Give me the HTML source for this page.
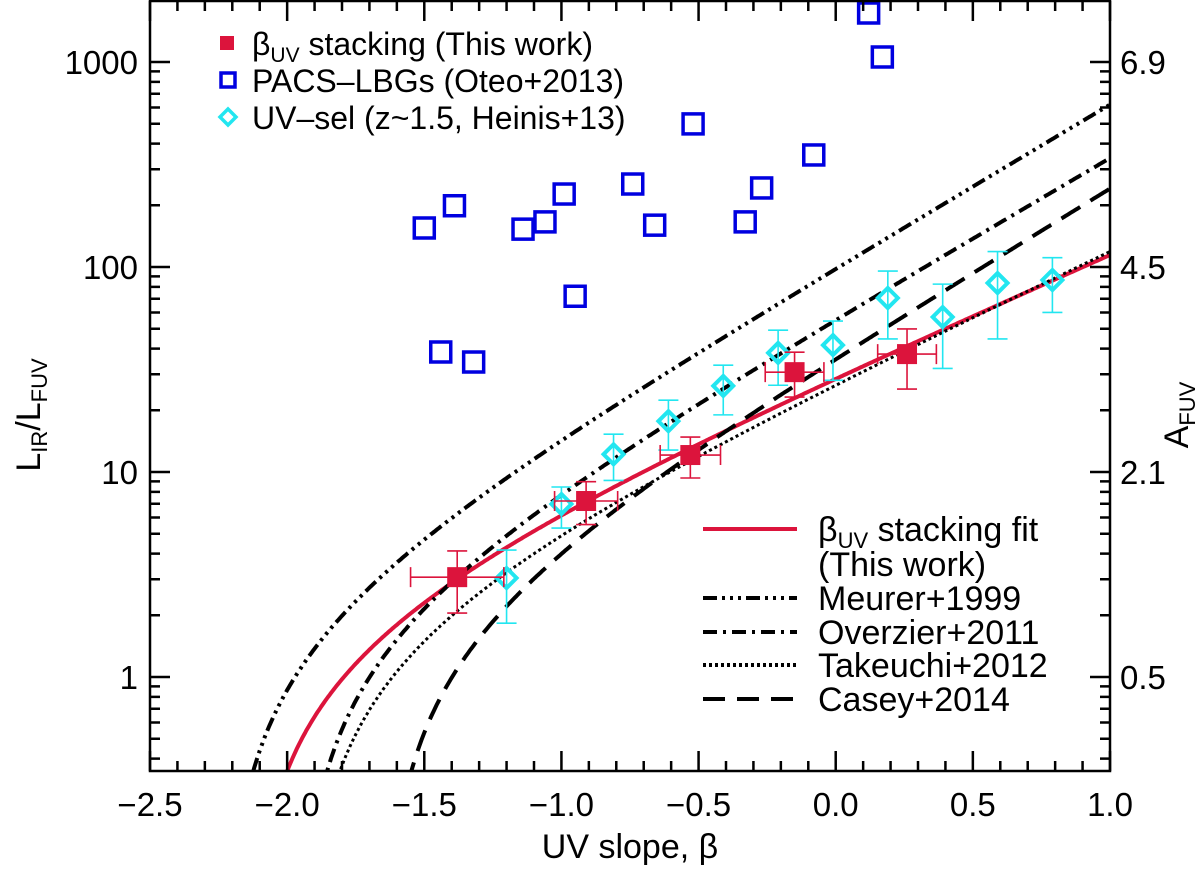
<!DOCTYPE html>
<html><head><meta charset="utf-8"><style>
html,body{margin:0;padding:0;background:#fff;}
svg text{font-family:"Liberation Sans",Arial,sans-serif;fill:#000;}
</style></head><body>
<svg id="chart" width="1200" height="870" viewBox="0 0 1200 870" xmlns="http://www.w3.org/2000/svg">
<g id="curves"></g><g id="points"></g><g id="axes"></g><g id="legend"></g>
</svg>
<script>
// ---- data ----
const redBeta=[-1.38,-0.91,-0.53,-0.15,0.26];
const redIRX=[3.07,7.22,12.1,30.7,37.6];
const redIRXHi=[4.12,8.97,14.8,38.4,49.9];
const redIRXLo=[2.05,5.54,9.35,23.2,25.4];
const redBetaErr=[0.17,0.115,0.11,0.107,0.107];
const blueBeta=[-1.50,-1.39,-1.14,-1.06,-0.99,-0.95,-0.74,-0.66,-0.52,-0.33,-0.27,-0.08,0.12,0.17,-1.44,-1.32];
const blueIRX=[155,199,153,166,227,72,254,160,499,166,243,352,1734,1058,38.5,34.4];
const cyanBeta=[-1.20,-1.00,-0.81,-0.61,-0.41,-0.21,-0.01,0.19,0.39,0.59,0.79];
const cyanIRX=[3.04,6.98,12.2,17.7,26.3,38.1,41.6,70.6,57.0,83.5,86.4];
const cyanHi=[4.16,8.45,15.3,22.4,33.2,49.2,54.5,95.6,82.5,119,111];
const cyanLo=[1.83,5.33,9.1,12.8,19.0,26.5,28.0,44.6,32.0,44.6,60.0];
// relations: A_FUV = a + b*beta ; IRX = 1.68*(10^(0.4 A)-1)
const modelNames=["fit","meurer","overzier","takeuchi","casey"];
const modelA=[3.134,4.43,3.82,3.06,3.36];
const modelB=[1.465,1.99,1.95,1.58,2.04];
const xTicks=[-2.5,-2.0,-1.5,-1.0,-0.5,0.0,0.5,1.0];
const xTickLabels=["\u22122.5","\u22122.0","\u22121.5","\u22121.0","\u22120.5","0.0","0.5","1.0"];
const yTicks=[1,10,100,1000];
const yTickLabels=["1","10","100","1000"];
const rTickLabels=["0.5","2.1","4.5","6.9"];

const NS="http://www.w3.org/2000/svg";
const L=150,R=1110,T=1,B=771;
const xMin=-2.5,xMax=1.0,lyMin=-0.4585,lyMax=3.2976;
function X(b){return L+(b-xMin)/(xMax-xMin)*(R-L);}
function Y(v){return B-(Math.log10(v)-lyMin)/(lyMax-lyMin)*(B-T);}
function mk(tag,attrs,parent){const e=document.createElementNS(NS,tag);for(const k in attrs)e.setAttribute(k,attrs[k]);parent.appendChild(e);return e;}
const gC=document.getElementById('curves'),gP=document.getElementById('points'),gA=document.getElementById('axes'),gL=document.getElementById('legend');
const styles={fit:{stroke:"#dc143c",dash:""},meurer:{stroke:"#000",dash:"14 5 3 5 3 5 3 5"},overzier:{stroke:"#000",dash:"14 6 3 6"},takeuchi:{stroke:"#000",dash:"3 3"},casey:{stroke:"#000",dash:"22 12"}};
const clip=mk('clipPath',{id:'pc'},gC);mk('rect',{x:L,y:T,width:R-L,height:B-T},clip);
modelNames.forEach((n,i)=>{
  let d="";let started=false;
  for(let b=-2.6;b<=1.0001;b+=0.005){
    const A=modelA[i]+modelB[i]*b;const irx=1.68*(Math.pow(10,0.4*A)-1);
    if(irx<=0.2)continue;
    d+=(started?"L":"M")+X(b).toFixed(1)+","+Y(irx).toFixed(1);started=true;
  }
  const p=mk('path',{d:d,fill:"none",stroke:styles[n].stroke,"stroke-width":n=="takeuchi"?3:4,"stroke-dasharray":styles[n].dash,"clip-path":"url(#pc)"},gC);
  
  
});
blueBeta.forEach((b,i)=>{
  const r=mk('rect',{x:X(b)-10,y:Y(blueIRX[i])-10,width:20,height:20,fill:"none",stroke:"#0000e0","stroke-width":3.5},gP);
  
  
});
cyanBeta.forEach((b,i)=>{
  const x=X(b),y=Y(cyanIRX[i]),yh=Y(cyanHi[i]),yl=Y(cyanLo[i]);
  const g=mk('g',{stroke:"#22e6f0","stroke-width":1.6,fill:"none"},gP);
  
  
  mk('path',{d:`M${x},${yh}V${yl}M${x-10},${yh}H${x+10}M${x-10},${yl}H${x+10}`},g);
  mk('path',{d:`M${x},${y-10}L${x+10},${y}L${x},${y+10}L${x-10},${y}Z`,"stroke-width":4},g);
});
redBeta.forEach((b,i)=>{
  const x=X(b),y=Y(redIRX[i]),yh=Y(redIRXHi[i]),yl=Y(redIRXLo[i]),xl=X(b-redBetaErr[i]),xr=X(b+redBetaErr[i]);
  const g=mk('g',{},gP);
  
  
  mk('path',{d:`M${x},${yh}V${yl}M${x-10},${yh}H${x+10}M${x-10},${yl}H${x+10}M${xl},${y}H${xr}M${xl},${y-10}V${y+10}M${xr},${y-10}V${y+10}`,stroke:"#dc143c","stroke-width":1.6,fill:"none"},g);
  mk('rect',{x:x-10,y:y-10,width:20,height:20,fill:"#dc143c"},g);
});
const fr=mk('rect',{x:L,y:T,width:R-L,height:B-T,fill:"none",stroke:"#000","stroke-width":2.5},gA);


let td="";
for(let k=-25;k<=10;k++){const b=k/10;const x=X(b);const len=(k%5===0)?20:10;td+=`M${x},${B}V${B-len}M${x},${T}V${T+len}`;}
for(let d=-1;d<=3;d++){for(let m=1;m<=9;m++){const v=m*Math.pow(10,d);const lv=Math.log10(v);if(lv<lyMin||lv>lyMax)continue;const y=Y(v);const len=m===1?20:10;td+=`M${L},${y}H${L+len}M${R},${y}H${R-len}`;}}
mk('path',{d:td,stroke:"#000","stroke-width":2.5,fill:"none"},gA);
xTicks.forEach((b,i)=>{const t=mk('text',{x:X(b),y:816,"font-size":33,"text-anchor":"middle"},gA);t.textContent=xTickLabels[i];
  
  });
yTicks.forEach((v,i)=>{const t=mk('text',{x:138,y:Y(v)+12,"font-size":33,"text-anchor":"end"},gA);t.textContent=yTickLabels[i];
  
  
  const r=mk('text',{x:1120,y:Y(v)+12,"font-size":33},gA);r.textContent=rTickLabels[i];
  
  });
</script>
<script>
(function(){
const NS="http://www.w3.org/2000/svg";
const gA=document.getElementById('axes'),gL=document.getElementById('legend');
function mk(tag,attrs,parent){const e=document.createElementNS(NS,tag);for(const k in attrs)e.setAttribute(k,attrs[k]);parent.appendChild(e);return e;}
let t=mk('text',{x:630,y:858,"font-size":34,"text-anchor":"middle"},gA);t.textContent="UV slope, \u03b2";


t=mk('text',{transform:"translate(40,415) rotate(-90)","font-size":34,"text-anchor":"middle"},gA);
t.innerHTML='L<tspan font-size="22" dy="7">IR</tspan><tspan dy="-7">/L</tspan><tspan font-size="22" dy="7">FUV</tspan>';


t=mk('text',{transform:"translate(1188,415) rotate(-90)","font-size":34,"text-anchor":"middle"},gA);
t.innerHTML='A<tspan font-size="22" dy="7">FUV</tspan>';


const rows=[{y:43,label:'\u03b2<tspan font-size="21" dy="7">UV</tspan><tspan dy="-7"> stacking (This work)</tspan>',name:'legend-stacking'},
{y:80,label:'PACS\u2013LBGs (Oteo+2013)',name:'legend-pacs'},{y:117,label:'UV\u2013sel (z~1.5, Heinis+13)',name:'legend-uvsel'}];
rows.forEach((r,i)=>{
  const g=mk('g',{},gL);
  
  
  if(i===0)mk('rect',{x:220,y:r.y-7,width:14,height:14,fill:"#dc143c"},g);
  if(i===1)mk('rect',{x:221,y:r.y-7,width:14,height:14,fill:"none",stroke:"#0000e0","stroke-width":3.5},g);
  if(i===2)mk('path',{d:`M228,${r.y-8}L236,${r.y}L228,${r.y+8}L220,${r.y}Z`,fill:"none",stroke:"#22e6f0","stroke-width":3.5},g);
  const tx=mk('text',{x:252,y:r.y+12,"font-size":32},g);tx.innerHTML=r.label;
});
const lrows=[{y:529,dash:"",stroke:"#dc143c",label:'\u03b2<tspan font-size="22" dy="7">UV</tspan><tspan dy="-7"> stacking fit</tspan>',name:'legend-fit'},
{y:598,dash:"14 5 3 5 3 5 3 5",stroke:"#000",label:'Meurer+1999',name:'legend-meurer'},
{y:632,dash:"14 6 3 6",stroke:"#000",label:'Overzier+2011',name:'legend-overzier'},
{y:665,dash:"3 3",stroke:"#000",label:'Takeuchi+2012',name:'legend-takeuchi'},
{y:699,dash:"22 12",stroke:"#000",label:'Casey+2014',name:'legend-casey'}];
lrows.forEach(r=>{
  const g=mk('g',{},gL);
  
  
  mk('path',{d:`M703,${r.y}H797`,stroke:r.stroke,"stroke-width":4,"stroke-dasharray":r.dash},g);
  const tx=mk('text',{x:818,y:r.y+12,"font-size":34},g);tx.innerHTML=r.label;
});
const tx=mk('text',{x:818,y:576,"font-size":34},gL);tx.textContent="(This work)";


})();
</script>
</body></html>
